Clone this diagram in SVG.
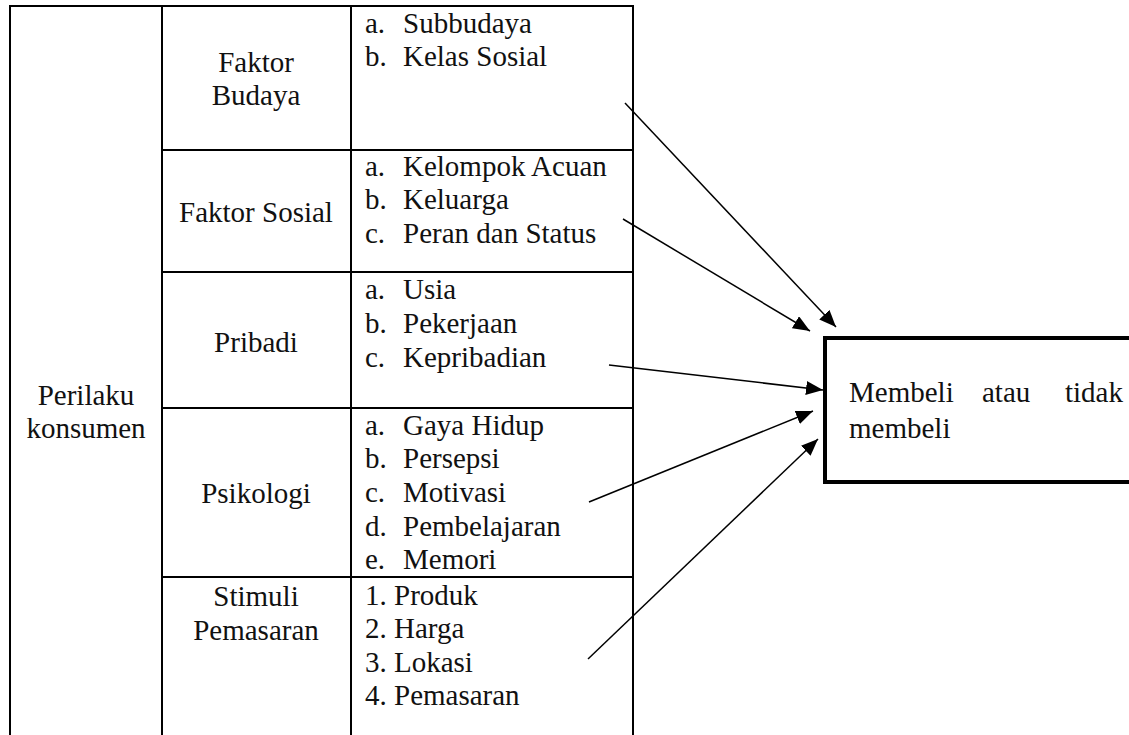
<svg xmlns="http://www.w3.org/2000/svg" width="1129" height="735" viewBox="0 0 1129 735">
<style>
.t{font-size:29px;fill:#111}
.m{text-anchor:middle}
.ln{stroke:#000;stroke-width:2;fill:none}
.ar{stroke:#000;stroke-width:1.5;fill:none;marker-end:url(#ah)}
</style>
<defs>
<marker id="ah" markerUnits="userSpaceOnUse" markerWidth="18" markerHeight="14" refX="17" refY="7" orient="auto">
<path d="M0,0 L17,7 L0,14 z" fill="#000"/>
</marker>
</defs>
<rect width="1129" height="735" fill="#fff"/>
<g id="table-lines">
<path class="ln" d="M10,735 V6 H633 V735 M162,6 V735 M351,6 V735 M162,150 H633 M162,272 H633 M162,408 H633 M162,577 H633"/>
</g>
<g font-family="Liberation Serif, Tinos, Times New Roman, DejaVu Serif, serif">
<g id="perilaku-konsumen">
<text class="t m" x="86" y="405">Perilaku</text>
<text class="t m" x="86" y="438">konsumen</text>
</g>
<g id="faktor-budaya">
<text class="t m" x="256" y="72">Faktor</text>
<text class="t m" x="256" y="105">Budaya</text>
</g>
<g id="faktor-budaya-items">
<text class="t" x="365" y="33">a.</text><text class="t" x="403" y="33">Subbudaya</text>
<text class="t" x="365" y="66">b.</text><text class="t" x="403" y="66">Kelas Sosial</text>
</g>
<g id="faktor-sosial">
<text class="t m" x="256" y="222">Faktor Sosial</text>
</g>
<g id="faktor-sosial-items">
<text class="t" x="365" y="176">a.</text><text class="t" x="403" y="176">Kelompok Acuan</text>
<text class="t" x="365" y="209">b.</text><text class="t" x="403" y="209">Keluarga</text>
<text class="t" x="365" y="243">c.</text><text class="t" x="403" y="243">Peran dan Status</text>
</g>
<g id="pribadi">
<text class="t m" x="256" y="352">Pribadi</text>
</g>
<g id="pribadi-items">
<text class="t" x="365" y="299">a.</text><text class="t" x="403" y="299">Usia</text>
<text class="t" x="365" y="333">b.</text><text class="t" x="403" y="333">Pekerjaan</text>
<text class="t" x="365" y="367">c.</text><text class="t" x="403" y="367">Kepribadian</text>
</g>
<g id="psikologi">
<text class="t m" x="256" y="503">Psikologi</text>
</g>
<g id="psikologi-items">
<text class="t" x="365" y="435">a.</text><text class="t" x="403" y="435">Gaya Hidup</text>
<text class="t" x="365" y="468">b.</text><text class="t" x="403" y="468">Persepsi</text>
<text class="t" x="365" y="502">c.</text><text class="t" x="403" y="502">Motivasi</text>
<text class="t" x="365" y="536">d.</text><text class="t" x="403" y="536">Pembelajaran</text>
<text class="t" x="365" y="569">e.</text><text class="t" x="403" y="569">Memori</text>
</g>
<g id="stimuli-pemasaran">
<text class="t m" x="256" y="606">Stimuli</text>
<text class="t m" x="256" y="640">Pemasaran</text>
</g>
<g id="stimuli-items">
<text class="t" x="365" y="605">1. Produk</text>
<text class="t" x="365" y="638">2. Harga</text>
<text class="t" x="365" y="672">3. Lokasi</text>
<text class="t" x="365" y="705">4. Pemasaran</text>
</g>
<g id="keputusan">
<rect x="825" y="338" width="320" height="144" fill="none" stroke="#000" stroke-width="4"/>
<text class="t" x="849" y="402">Membeli</text>
<text class="t" x="982" y="402">atau</text>
<text class="t" x="1065" y="402">tidak</text>
<text class="t" x="849" y="438">membeli</text>
</g>
</g>
<g id="connectors">
<line class="ar" x1="625" y1="103" x2="836" y2="327"/>
<line class="ar" x1="623" y1="219" x2="810" y2="331"/>
<line class="ar" x1="609" y1="365" x2="823" y2="390"/>
<line class="ar" x1="589" y1="502" x2="813" y2="411"/>
<line class="ar" x1="588" y1="659" x2="818" y2="439"/>
</g>
</svg>
